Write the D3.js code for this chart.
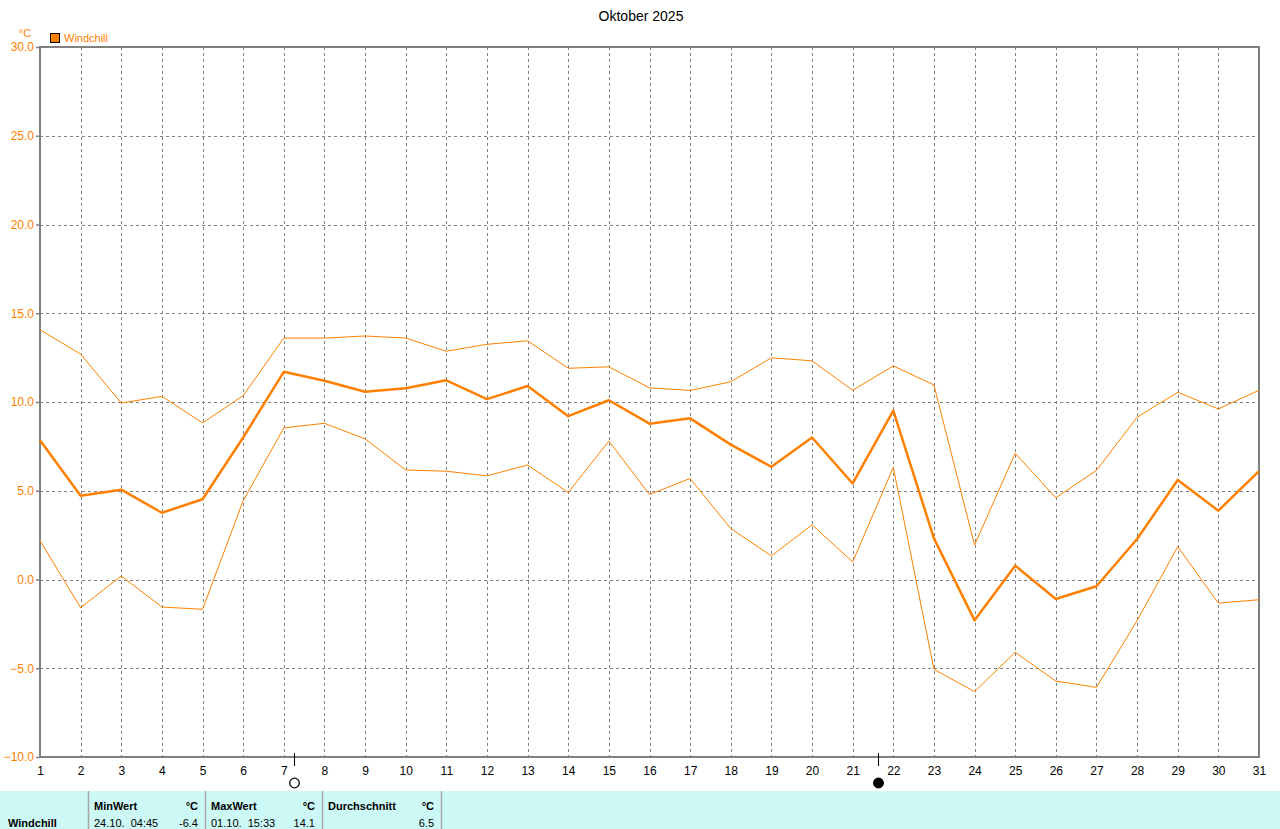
<!DOCTYPE html>
<html>
<head>
<meta charset="utf-8">
<script src="https://cdn.jsdelivr.net/npm/d3@7"></script>
<style>
  body { margin: 0; background: #fff; }
  svg { display: block; font-family: "Liberation Sans", Arial, sans-serif; }
</style>
</head>
<body>
<svg id="svg" width="1280" height="829"></svg>
<script>
// Oktober 2025, Windchill, daily values
var days = d3.range(1, 32);
var windMean = [7.84, 4.72, 5.06, 3.76, 4.52, 8.0, 11.7, 11.2, 10.58, 10.77, 11.22,
    10.16, 10.9, 9.2, 10.1, 8.78, 9.08, 7.6, 6.35, 8.0, 5.41,
    9.52, 2.32, -2.3, 0.78, -1.1, -0.38, 2.28, 5.61, 3.88, 6.1];
var windMax = [14.07, 12.7, 9.94, 10.32, 8.82, 10.36, 13.6, 13.6, 13.72, 13.6, 12.86,
    13.25, 13.45, 11.9, 11.98, 10.8, 10.65, 11.14, 12.49, 12.32, 10.66,
    12.03, 10.96, 1.94, 7.11, 4.6, 6.15, 9.14, 10.55, 9.61, 10.66];
var windMin = [2.19, -1.59, 0.2, -1.55, -1.68, 4.44, 8.54, 8.8, 7.92, 6.17, 6.1,
    5.84, 6.45, 4.9, 7.8, 4.79, 5.69, 2.87, 1.33, 3.08, 0.99,
    6.32, -5.06, -6.32, -4.1, -5.72, -6.08, -2.32, 1.85, -1.33, -1.14];
var yTicks = [-10, -5, 0, 5, 10, 15, 20, 25, 30];
// moon phases: full moon 07.10., new moon 21.10.
var moonPhases = [{ day: 7.24, full: true }, { day: 21.62, full: false }];
// statistics row
var statLabels = ["MinWert", "MaxWert", "Durchschnitt"];
var statTimes = ["24.10.  04:45", "01.10.  15:33", ""];
var statValues = ["-6.4", "14.1", "6.5"];

var orange = "#ff8000";
var gray = "#808080";

var svg = d3.select("svg");
var plotLeft = 40, plotRight = 1259, plotTop = 47, plotBottom = 757;

var x = d3.scaleLinear().domain([1, 31]).range([plotLeft, plotRight]);
var y = d3.scaleLinear().domain([-10, 30]).range([plotBottom, plotTop]);

// title
svg.append("text")
    .attr("x", 641).attr("y", 21)
    .attr("text-anchor", "middle")
    .attr("font-size", 14)
    .attr("fill", "#000")
    .text("Oktober 2025");

// unit + legend
svg.append("text")
    .attr("x", 25).attr("y", 37)
    .attr("text-anchor", "middle")
    .attr("font-size", 11)
    .attr("fill", orange)
    .text("°C");
svg.append("rect")
    .attr("x", 50.5).attr("y", 33.5).attr("width", 9).attr("height", 9)
    .attr("fill", orange).attr("stroke", "#000");
svg.append("text")
    .attr("x", 64).attr("y", 42)
    .attr("font-size", 11)
    .attr("fill", orange)
    .text("Windchill");

// grid
svg.append("g")
    .selectAll("line")
    .data(yTicks.slice(1, -1))
    .enter().append("line")
    .attr("x1", plotLeft).attr("x2", plotRight)
    .attr("y1", function (d) { return Math.round(y(d)) + 0.5; })
    .attr("y2", function (d) { return Math.round(y(d)) + 0.5; })
    .attr("stroke", gray).attr("stroke-dasharray", "3,3");

svg.append("g")
    .selectAll("line")
    .data(days.slice(1, -1))
    .enter().append("line")
    .attr("y1", plotTop).attr("y2", plotBottom)
    .attr("x1", function (d) { return Math.round(x(d)) + 0.5; })
    .attr("x2", function (d) { return Math.round(x(d)) + 0.5; })
    .attr("stroke", gray).attr("stroke-dasharray", "3,3");

// y axis
var yAxis = d3.axisLeft(y)
    .tickValues(yTicks)
    .tickFormat(d3.format(".1f"))
    .tickSize(4);
var yg = svg.append("g")
    .attr("transform", "translate(" + plotLeft + ",0)")
    .call(yAxis);
yg.select(".domain").remove();
yg.selectAll(".tick line").attr("stroke", gray).attr("stroke-width", 1.5);
yg.selectAll(".tick text")
    .attr("fill", orange)
    .attr("font-size", 12)
    .attr("font-family", "Liberation Sans, Arial, sans-serif")
    .attr("x", -6);

// x axis
var xAxis = d3.axisBottom(x)
    .tickValues(days)
    .tickFormat(d3.format("d"))
    .tickSize(0);
var xg = svg.append("g")
    .attr("transform", "translate(0," + plotBottom + ")")
    .call(xAxis);
xg.select(".domain").remove();
xg.selectAll(".tick text")
    .attr("fill", "#000")
    .attr("font-size", 12)
    .attr("font-family", "Liberation Sans, Arial, sans-serif")
    .attr("dy", "1.25em");

// frame
svg.append("rect")
    .attr("x", plotLeft).attr("y", plotTop)
    .attr("width", plotRight - plotLeft).attr("height", plotBottom - plotTop)
    .attr("fill", "none").attr("stroke", gray).attr("stroke-width", 2);

// lines
function lineOf(values) {
    return d3.line()
        .x(function (d, i) { return x(days[i]); })
        .y(function (d) { return y(d); })(values);
}
svg.append("path").attr("d", lineOf(windMax))
    .attr("fill", "none").attr("stroke", orange).attr("stroke-width", 1);
svg.append("path").attr("d", lineOf(windMin))
    .attr("fill", "none").attr("stroke", orange).attr("stroke-width", 1);
svg.append("path").attr("d", lineOf(windMean))
    .attr("fill", "none").attr("stroke", orange).attr("stroke-width", 2.5)
    .attr("stroke-linejoin", "round");

// moon phases
var moons = svg.append("g").selectAll("g").data(moonPhases).enter().append("g")
    .attr("transform", function (d) { return "translate(" + Math.round(x(d.day)) + ",0)"; });
moons.append("line")
    .attr("x1", 0.5).attr("x2", 0.5).attr("y1", 753).attr("y2", 766)
    .attr("stroke", "#000");
moons.append("circle")
    .attr("cx", 0.5).attr("cy", 783).attr("r", 4.8)
    .attr("fill", function (d) { return d.full ? "#fff" : "#000"; })
    .attr("stroke", "#000").attr("stroke-width", 1.3);

// statistics table
var tableTop = 791;
svg.append("rect")
    .attr("x", 0).attr("y", tableTop).attr("width", 1280).attr("height", 829 - tableTop)
    .attr("fill", "#ccf8f5");
var seps = [88, 205, 322, 441];
svg.append("g").selectAll("line").data(seps).enter().append("line")
    .attr("x1", function (d) { return d + 0.5; }).attr("x2", function (d) { return d + 0.5; })
    .attr("y1", tableTop).attr("y2", 829)
    .attr("stroke", "#a8a8a8").attr("stroke-width", 1.5);
svg.append("text")
    .attr("x", 8).attr("y", 827)
    .attr("font-size", 11).attr("font-weight", "bold")
    .text("Windchill");

var cols = svg.append("g").selectAll("g").data(statLabels).enter().append("g")
    .attr("transform", function (d, i) { return "translate(" + seps[i] + ",0)"; });
cols.append("text")
    .attr("x", 6).attr("y", 810)
    .attr("font-size", 11).attr("font-weight", "bold")
    .text(function (d) { return d; });
cols.append("text")
    .attr("x", function (d, i) { return seps[i + 1] - seps[i] - 7; }).attr("y", 810)
    .attr("text-anchor", "end")
    .attr("font-size", 11).attr("font-weight", "bold")
    .text("°C");
cols.append("text")
    .attr("x", 6).attr("y", 827)
    .attr("font-size", 11)
    .style("white-space", "pre")
    .text(function (d, i) { return statTimes[i]; });
cols.append("text")
    .attr("x", function (d, i) { return seps[i + 1] - seps[i] - 7; }).attr("y", 827)
    .attr("text-anchor", "end")
    .attr("font-size", 11)
    .text(function (d, i) { return statValues[i]; });
</script>
</body>
</html>
